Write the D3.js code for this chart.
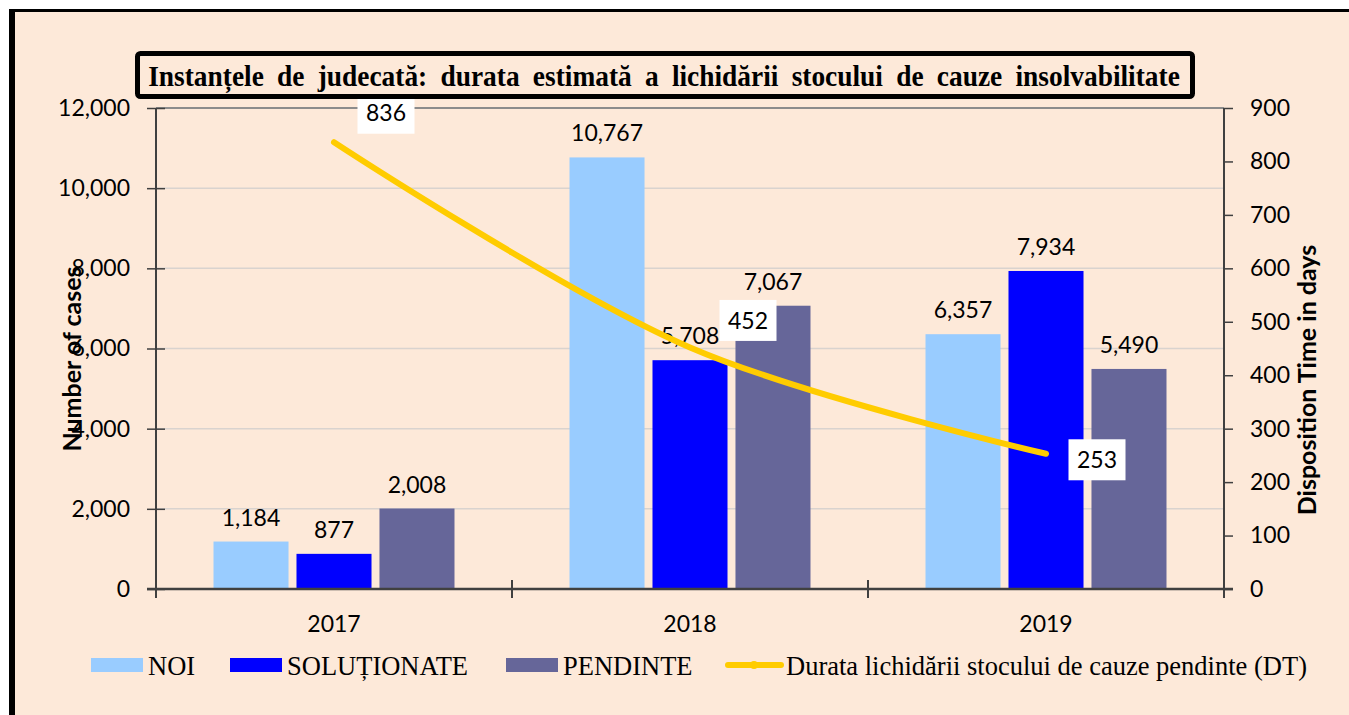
<!DOCTYPE html>
<html>
<head>
<meta charset="utf-8">
<script src="https://cdn.jsdelivr.net/npm/d3@7"></script>
<style>
  body { margin: 0; background: #fff; }
</style>
</head>
<body>
<div id="chart"></div>
<script>
// data
var years = ["2017", "2018", "2019"];
var seriesNames = ["NOI", "SOLUȚIONATE", "PENDINTE"];
var noi = [1184, 10767, 6357];
var solutionate = [877, 5708, 7934];
var pendinte = [2008, 7067, 5490];
var durata = [836, 452, 253];
var lineName = "Durata lichidării stocului de cauze pendinte (DT)";
var leftTicks = [0, 2000, 4000, 6000, 8000, 10000, 12000];
var rightTicks = [0, 100, 200, 300, 400, 500, 600, 700, 800, 900];
var titleText = "Instanțele de judecată: durata estimată a lichidării stocului de cauze insolvabilitate";

var colors = {"NOI": "#99CCFF", "SOLUȚIONATE": "#0000FF", "PENDINTE": "#666699"};
var lineColor = "#FFCC00";
var peach = "#FDE9D9";
var sansFont = "Lato, 'Open Sans', sans-serif";
var serifFont = "'Liberation Serif', 'Times New Roman', serif";

var W = 1349, H = 715;
var plot = {left: 156, right: 1224, top: 108, bottom: 589};

var svg = d3.select("#chart")
  .append("svg")
    .attr("width", W)
    .attr("height", H);

// background + frame
svg.append("rect").attr("x", 12).attr("y", 10).attr("width", W - 12).attr("height", H - 10).attr("fill", peach);
svg.append("line").attr("x1", 12).attr("x2", W).attr("y1", 10.5).attr("y2", 10.5)
  .attr("stroke", "#000").attr("stroke-width", 3);
svg.append("line").attr("x1", 12).attr("x2", 12).attr("y1", 9).attr("y2", H)
  .attr("stroke", "#000").attr("stroke-width", 6);

// scales
var x0 = d3.scaleBand().domain(years).range([plot.left, plot.right]);
var x1 = d3.scaleBand().domain(seriesNames).range([0, x0.bandwidth()])
  .paddingInner(0.096).paddingOuter(0.693);
var y = d3.scaleLinear().domain([0, 12000]).range([plot.bottom, plot.top]);
var y2 = d3.scaleLinear().domain([0, 900]).range([plot.bottom, plot.top]);

// gridlines
svg.append("g")
  .selectAll("line")
  .data(leftTicks.filter(d => d > 0 && d < 12000))
  .enter()
  .append("line")
    .attr("x1", plot.left).attr("x2", plot.right)
    .attr("y1", d => y(d)).attr("y2", d => y(d))
    .attr("stroke", "#d9d3cf").attr("stroke-width", 1.5);
svg.append("line")
  .attr("x1", plot.left).attr("x2", plot.right)
  .attr("y1", y(12000)).attr("y2", y(12000))
  .attr("stroke", "#8c8c8c").attr("stroke-width", 2);

// bars
var barData = [];
years.forEach(function(yr, i) {
  barData.push({year: yr, name: "NOI", value: noi[i]});
  barData.push({year: yr, name: "SOLUȚIONATE", value: solutionate[i]});
  barData.push({year: yr, name: "PENDINTE", value: pendinte[i]});
});

svg.append("g")
  .selectAll("rect")
  .data(barData)
  .enter()
  .append("rect")
    .attr("x", d => x0(d.year) + x1(d.name))
    .attr("y", d => y(d.value))
    .attr("width", x1.bandwidth())
    .attr("height", d => y(0) - y(d.value))
    .attr("fill", d => colors[d.name]);

svg.append("g")
  .selectAll("text")
  .data(barData)
  .enter()
  .append("text")
    .attr("x", d => x0(d.year) + x1(d.name) + x1.bandwidth() / 2)
    .attr("y", d => y(d.value) - 16)
    .attr("text-anchor", "middle")
    .style("font-family", sansFont)
    .style("font-size", "23px")
    .attr("fill", "#000")
    .text(d => d3.format(",")(d.value));

// left axis (cross ticks)
var leftAxis = svg.append("g")
  .attr("transform", "translate(" + plot.left + ",0)")
  .call(d3.axisLeft(y).tickValues(leftTicks).tickFormat(d3.format(",")).tickSize(9).tickPadding(17));
leftAxis.selectAll(".tick line").attr("x1", 9);

// right axis
var rightAxis = svg.append("g")
  .attr("transform", "translate(" + plot.right + ",0)")
  .call(d3.axisRight(y2).tickValues(rightTicks).tickSize(9).tickPadding(17));

// bottom axis: labels + category separators
var bottomAxis = svg.append("g")
  .attr("transform", "translate(0," + plot.bottom + ")")
  .call(d3.axisBottom(x0).tickSize(0).tickPadding(27));
bottomAxis.select(".domain").remove();
svg.append("g")
  .selectAll("line")
  .data(years.map(d => x0(d)).concat([plot.right]))
  .enter()
  .append("line")
    .attr("x1", d => d).attr("x2", d => d)
    .attr("y1", plot.bottom - 9).attr("y2", plot.bottom + 9)
    .attr("stroke", "#404040").attr("stroke-width", 2);
svg.append("line")
  .attr("x1", plot.left - 9).attr("x2", plot.right + 9)
  .attr("y1", plot.bottom).attr("y2", plot.bottom)
  .attr("stroke", "#404040").attr("stroke-width", 2.5);

[leftAxis, rightAxis, bottomAxis].forEach(function(a) {
  a.selectAll(".domain").attr("stroke", "#404040").attr("stroke-width", 2);
  a.selectAll(".tick line").attr("stroke", "#404040").attr("stroke-width", 1.5);
  a.selectAll("text")
    .style("font-family", sansFont)
    .style("font-size", "23px")
    .attr("fill", "#000");
});
leftAxis.select(".domain").attr("d", "M0," + plot.top + "V" + plot.bottom);
rightAxis.select(".domain").attr("d", "M0," + plot.top + "V" + plot.bottom);

// axis titles
svg.append("text")
  .attr("transform", "translate(81,359) rotate(-90)")
  .attr("text-anchor", "middle")
  .style("font-family", sansFont)
  .style("font-size", "25px")
  .style("font-weight", "bold")
  .text("Number of cases");
svg.append("text")
  .attr("transform", "translate(1316,380) rotate(-90)")
  .attr("text-anchor", "middle")
  .style("font-family", sansFont)
  .style("font-size", "25px")
  .style("font-weight", "bold")
  .text("Disposition Time in days");

// DT line
var lineGen = d3.line()
  .x((d, i) => x0(years[i]) + x0.bandwidth() / 2)
  .y(d => y2(d))
  .curve(d3.curveCatmullRom.alpha(0.5));

svg.append("path")
  .datum(durata)
  .attr("d", lineGen)
  .attr("fill", "none")
  .attr("stroke", lineColor)
  .attr("stroke-width", 6)
  .attr("stroke-linecap", "round");

// line labels (white boxes), offsets placed like the original
var labelOffsets = [[52, -29], [58, -27], [51, 6]];
var lbl = svg.append("g")
  .selectAll("g")
  .data(durata)
  .enter()
  .append("g")
    .attr("transform", (d, i) => "translate(" + (x0(years[i]) + x0.bandwidth() / 2 + labelOffsets[i][0]) +
      "," + (y2(d) + labelOffsets[i][1]) + ")");
lbl.append("rect")
  .attr("x", -28.5).attr("y", -20.5).attr("width", 57).attr("height", 41)
  .attr("fill", "#fff");
lbl.append("text")
  .attr("text-anchor", "middle")
  .attr("dy", "0.36em")
  .style("font-family", sansFont)
  .style("font-size", "23px")
  .text(d => d);

// title box
svg.append("rect")
  .attr("x", 137.5).attr("y", 53.5).attr("width", 1055).attr("height", 43)
  .attr("rx", 3)
  .attr("fill", peach)
  .attr("stroke", "#000")
  .attr("stroke-width", 5);
var title = svg.append("text")
  .attr("x", 0)
  .attr("y", 0)
  .attr("text-anchor", "middle")
  .style("font-family", serifFont)
  .style("font-size", "30px")
  .style("font-weight", "bold")
  .style("word-spacing", "7px")
  .text(titleText);
// squeeze the glyphs a little, like the narrow original title
var natural = title.node().getComputedTextLength();
title.attr("transform", "translate(664,86) scale(" + (1032 / natural) + ",1)");

// legend
var legendItems = [
  {name: "NOI", x: 91},
  {name: "SOLUȚIONATE", x: 230},
  {name: "PENDINTE", x: 506}
];
var legend = svg.append("g");
legend.selectAll("rect")
  .data(legendItems)
  .enter()
  .append("rect")
    .attr("x", d => d.x).attr("y", 658)
    .attr("width", 52).attr("height", 14)
    .attr("fill", d => colors[d.name]);
legend.selectAll("text.leg")
  .data(legendItems)
  .enter()
  .append("text")
    .attr("class", "leg")
    .attr("x", d => d.x + 57).attr("y", 675)
    .style("font-family", serifFont)
    .style("font-size", "26.5px")
    .text(d => d.name);
legend.append("line")
  .attr("x1", 728).attr("x2", 781).attr("y1", 665).attr("y2", 665)
  .attr("stroke", lineColor).attr("stroke-width", 6).attr("stroke-linecap", "round");
legend.append("circle")
  .attr("cx", 754).attr("cy", 665).attr("r", 4).attr("fill", lineColor);
legend.append("text")
  .attr("x", 786).attr("y", 675)
  .style("font-family", serifFont)
  .style("font-size", "26.5px")
  .text(lineName);
</script>
</body>
</html>
